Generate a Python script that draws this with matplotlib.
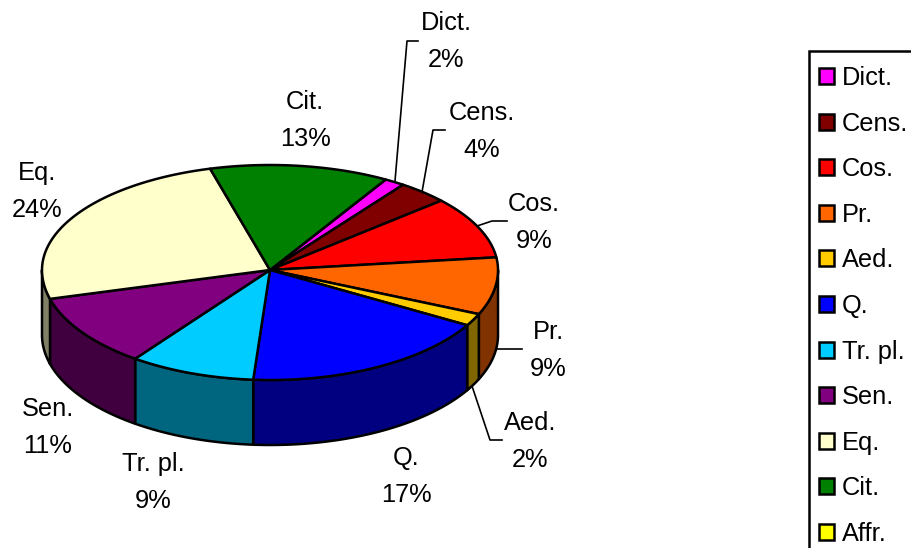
#!/usr/bin/env python3
# -*- coding: utf-8 -*-
import numpy as np
import matplotlib
matplotlib.use('Agg')
import matplotlib.pyplot as plt
from matplotlib.patches import Patch, Rectangle

plt.rcParams['font.family'] = ['Liberation Sans', 'DejaVu Sans']

categories = ['Dict.', 'Cens.', 'Cos.', 'Pr.', 'Aed.', 'Q.', 'Tr. pl.', 'Sen.', 'Eq.', 'Cit.', 'Affr.']
# shares
shares = [1.45, 3.6, 9.55, 8.5, 1.8, 17.8, 8.9, 10.7, 25.0, 12.7, 0.0]
percent_labels = ['2%', '4%', '9%', '9%', '2%', '17%', '9%', '11%', '24%', '13%', '0%']
top_colors = ['#FF00FF', '#800000', '#FF0000', '#FF6600', '#FFCC00', '#0000FF',
              '#00CCFF', '#800080', '#FFFFCC', '#008000', '#FFFF00']
side_colors = ['#800080', '#400000', '#800000', '#803300', '#806600', '#000080',
               '#006680', '#400040', '#808066', '#004000', '#808000']

# layout of the pie, in pixels of the picture
cx, cy = 270, 270
rx = 228
ry_back, ry_front = 105, 110
depth = 65
start_angle = 59.5
font_size = 18.3

label_pos = {'Dict.': (446, 23), 'Cens.': (482, 113), 'Cos.': (534, 204), 'Pr.': (548, 332),
             'Aed.': (530, 423), 'Q.': (406, 458), 'Tr. pl.': (153, 464), 'Sen.': (48, 409),
             'Eq.': (37, 173), 'Cit.': (305, 102)}
leaders = [([395, 407, 418], [181, 41, 41]),
           ([422, 433, 445], [192, 130, 130]),
           ([477, 492, 507], [226, 221, 221]),
           ([497, 509, 522], [349, 349, 349]),
           ([472, 490, 502], [386, 440, 440])]


def edge(angles, drop=0):
    t = np.radians(angles)
    s = np.sin(t)
    ry = np.where(s > 0, ry_back, ry_front)
    return cx + rx * np.cos(t), cy - ry * s + drop


def slice_angles(values):
    total = float(sum(values))
    ends = start_angle - np.cumsum(values) / total * 360
    starts = np.concatenate(([start_angle], ends[:-1]))
    return starts, ends


def draw_sides(ax, starts, ends):
    # only the front half of the rim can be seen
    for a, b, color in zip(starts, ends, side_colors):
        for shift in (0, -360):
            hi, lo = min(a + shift, 0), max(b + shift, -180)
            if hi <= lo:
                continue
            arc = np.linspace(hi, lo, 60)
            x, y = edge(arc)
            x2, y2 = edge(arc[::-1], depth)
            ax.fill(np.r_[x, x2], np.r_[y, y2], facecolor=color, edgecolor='black',
                    linewidth=1.8, joinstyle='round', zorder=2)


def draw_tops(ax, starts, ends):
    for a, b, color in zip(starts, ends, top_colors):
        if a == b:
            continue
        x, y = edge(np.linspace(a, b, 80))
        ax.fill(np.r_[cx, x], np.r_[cy, y], facecolor=color, edgecolor='black',
                linewidth=1.8, joinstyle='round', zorder=3)


def draw_labels(ax):
    for xs, ys in leaders:
        ax.plot(xs, ys, color='black', linewidth=1.2, zorder=1)
    for name, pct in zip(categories, percent_labels):
        if name not in label_pos:
            continue
        x, y = label_pos[name]
        ax.text(x, y, name, fontsize=font_size, ha='center', va='center', zorder=5)
        ax.text(x, y + 37, pct, fontsize=font_size, ha='center', va='center', zorder=5)


def draw_legend(ax):
    # box runs off the right and bottom of the picture
    ax.add_patch(Rectangle((809, 51), 200, 600, facecolor='white', edgecolor='black',
                           linewidth=1.8, zorder=4))
    handles = [Patch(facecolor=c, edgecolor='black', linewidth=1.8) for c in top_colors]
    leg = ax.legend(handles, categories, loc='upper left', bbox_to_anchor=(819, 66),
                    bbox_transform=ax.transData, borderaxespad=0, fontsize=font_size,
                    handlelength=0.59, handleheight=0.59, handletextpad=0.31,
                    labelspacing=0.85, borderpad=0, frameon=False)
    leg.set_zorder(6)


if __name__ == '__main__':
    fig = plt.figure(figsize=(9.11, 5.48), dpi=100)
    ax = fig.add_axes([0, 0, 1, 1])
    ax.set_xlim(0, 911)
    ax.set_ylim(548, 0)
    ax.axis('off')

    starts, ends = slice_angles(shares)
    draw_sides(ax, starts, ends)
    draw_tops(ax, starts, ends)
    draw_labels(ax)
    draw_legend(ax)

    fig.savefig('out.png', dpi=100)
